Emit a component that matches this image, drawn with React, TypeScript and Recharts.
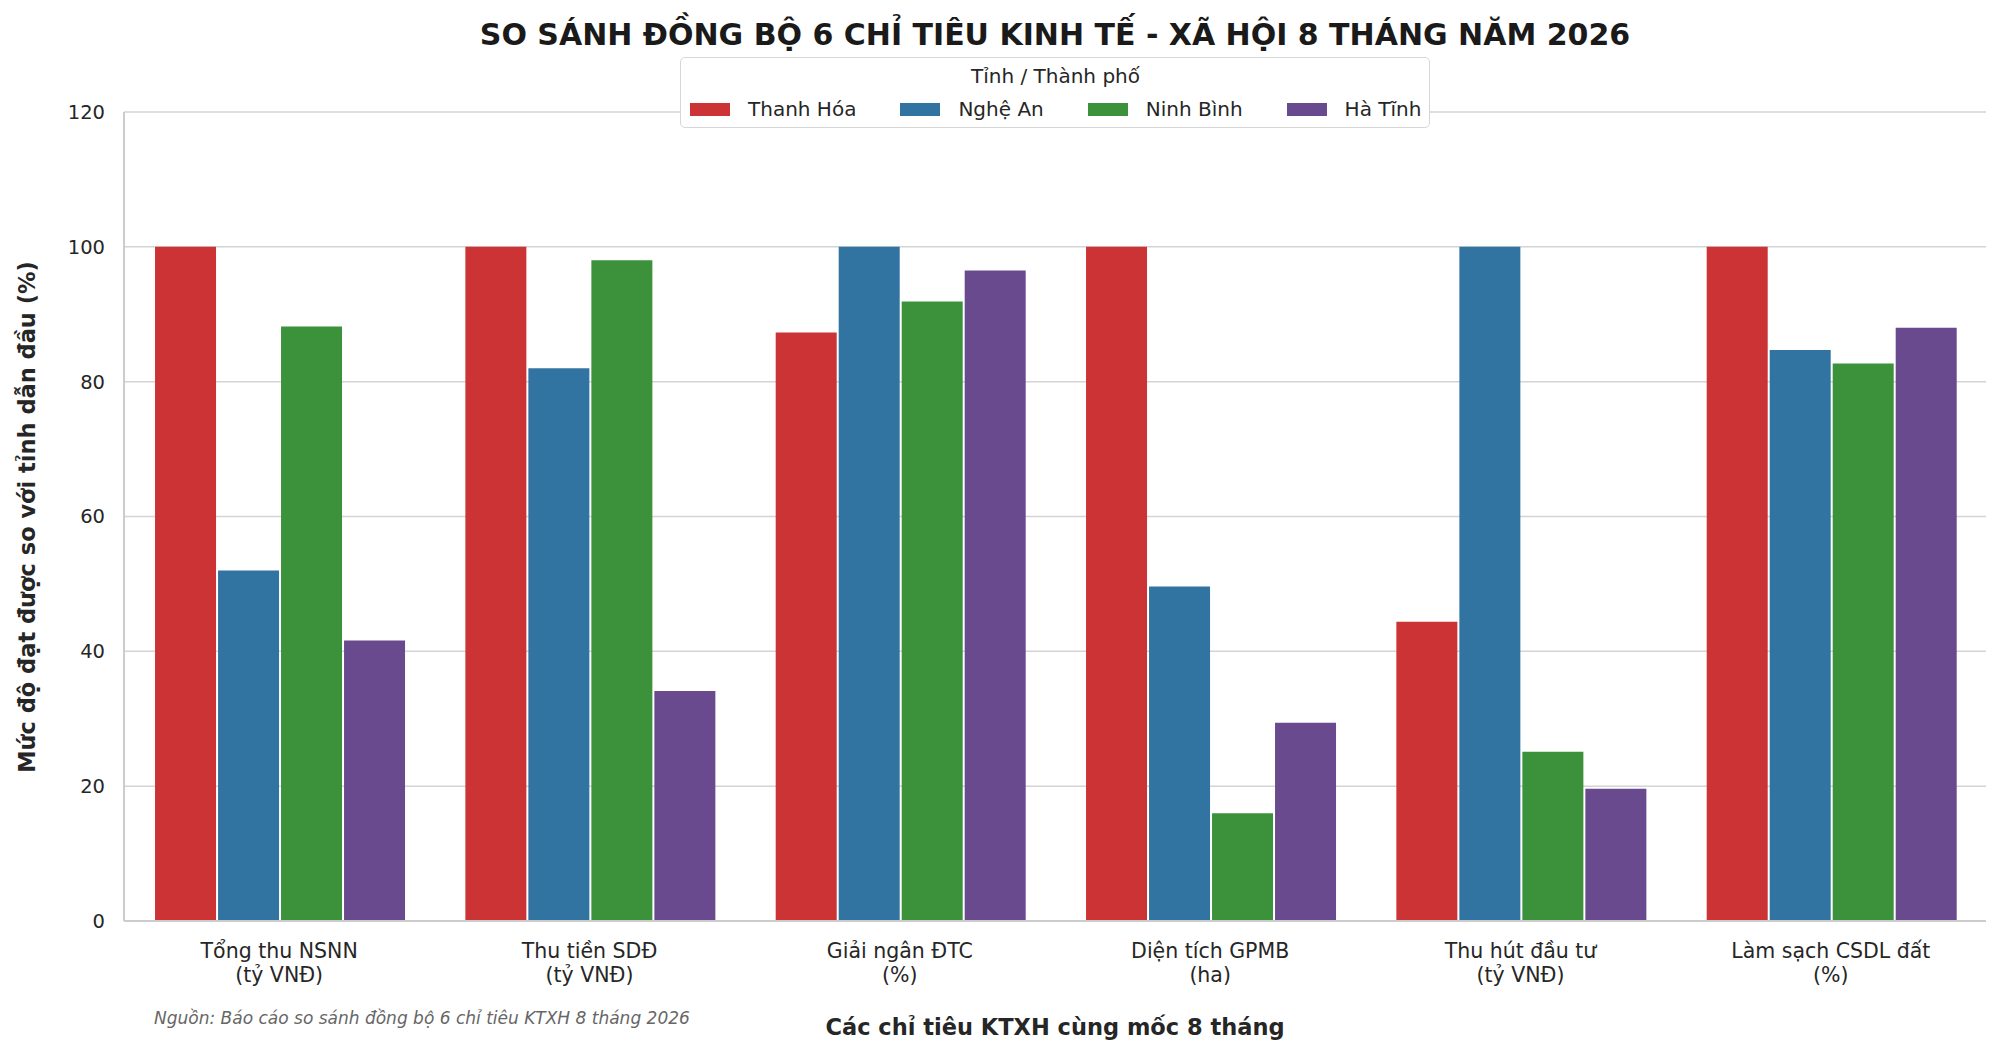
import React from "react";
import { BarChart, Bar, XAxis, YAxis, CartesianGrid, Legend } from "recharts";

const categories = [
  "Tổng thu NSNN\n(tỷ VNĐ)",
  "Thu tiền SDĐ\n(tỷ VNĐ)",
  "Giải ngân ĐTC\n(%)",
  "Diện tích GPMB\n(ha)",
  "Thu hút đầu tư\n(tỷ VNĐ)",
  "Làm sạch CSDL đất\n(%)",
];
const thanhHoa = [100, 100, 87.3, 100, 44.4, 100];
const ngheAn = [52.0, 82.0, 100, 49.6, 100, 84.7];
const ninhBinh = [88.2, 98.0, 91.9, 16.0, 25.1, 82.7];
const haTinh = [41.6, 34.1, 96.5, 29.4, 19.6, 88.0];

const seriesKeys = ["thanhHoa", "ngheAn", "ninhBinh", "haTinh"];
const seriesNames = ["Thanh Hóa", "Nghệ An", "Ninh Bình", "Hà Tĩnh"];
const seriesColors = ["#CB3335", "#3274A1", "#3C923B", "#6A4A8E"];
const yTicks = [0, 20, 40, 60, 80, 100, 120];

const TITLE = "SO SÁNH ĐỒNG BỘ 6 CHỈ TIÊU KINH TẾ - XÃ HỘI 8 THÁNG NĂM 2026";
const X_LABEL = "Các chỉ tiêu KTXH cùng mốc 8 tháng";
const Y_LABEL = "Mức độ đạt được so với tỉnh dẫn đầu (%)";
const SOURCE = "Nguồn: Báo cáo so sánh đồng bộ 6 chỉ tiêu KTXH 8 tháng 2026";
const LEGEND_TITLE = "Tỉnh / Thành phố";

const data = categories.map((c, i) => ({
  name: c,
  thanhHoa: thanhHoa[i],
  ngheAn: ngheAn[i],
  ninhBinh: ninhBinh[i],
  haTinh: haTinh[i],
}));

const FONT = "'DejaVu Sans', sans-serif";
const TEXT = "#262626";

const XTick = (props: any) => {
  const { x, y, payload } = props;
  const lines = String(payload.value).split("\n");
  return (
    <text x={x} y={y} textAnchor="middle" fill={TEXT} fontSize={20.5} fontFamily={FONT}>
      {lines.map((l, i) => (
        <tspan key={i} x={x} dy={i === 0 ? 37 : 23.5}>
          {l}
        </tspan>
      ))}
    </text>
  );
};

const LegendBox = () => (
  <div
    style={{
      background: "#fff",
      border: "1px solid #d6d6d6",
      borderRadius: 5,
      padding: "7px 8px 6px 9px",
      fontFamily: FONT,
      color: TEXT,
      fontSize: 20,
      boxSizing: "border-box",
      width: 750,
      height: 71,
    }}
  >
    <div style={{ textAlign: "center", lineHeight: "23px" }}>{LEGEND_TITLE}</div>
    <div style={{ display: "flex", alignItems: "center", marginTop: 10, height: 22 }}>
      {seriesNames.map((n, i) => (
        <div
          key={n}
          style={{ display: "flex", alignItems: "center", marginRight: i < 3 ? 44 : 0 }}
        >
          <div style={{ width: 40, height: 13, background: seriesColors[i], marginRight: 18 }} />
          <span style={{ whiteSpace: "nowrap", lineHeight: "22px" }}>{n}</span>
        </div>
      ))}
    </div>
  </div>
);

export default function App() {
  return (
    <div
      style={{
        position: "absolute",
        left: 0,
        top: 0,
        width: 2000,
        height: 1053,
        background: "#fff",
        fontFamily: FONT,
      }}
    >
      <BarChart
        width={2000}
        height={1053}
        data={data}
        margin={{ top: 112, right: 14, bottom: 72, left: 0 }}
        barCategoryGap="10%"
        barGap={2}
      >
        <CartesianGrid vertical={false} stroke="#d4d4d4" strokeWidth={1.5} />
        <XAxis
          dataKey="name"
          height={60}
          tickLine={false}
          tickSize={0}
          tickMargin={0}
          axisLine={{ stroke: "#cccccc", strokeWidth: 2 }}
          tick={<XTick />}
          interval={0}
        />
        <YAxis
          width={124}
          domain={[0, 120]}
          ticks={yTicks}
          tickLine={false}
          tickSize={0}
          tickMargin={19}
          axisLine={{ stroke: "#cccccc", strokeWidth: 2 }}
          tick={{ fill: TEXT, fontSize: 19.5, fontFamily: FONT }}
        />
        <Legend
          layout="vertical"
          align="center"
          verticalAlign="middle"
          wrapperStyle={{ position: "absolute", left: 680, top: 57, width: 750, height: 71 }}
          content={<LegendBox />}
        />
        {seriesKeys.map((k, i) => (
          <Bar
            key={k}
            dataKey={k}
            name={seriesNames[i]}
            fill={seriesColors[i]}
            isAnimationActive={false}
          />
        ))}
      </BarChart>

      <div
        style={{
          position: "absolute",
          left: 1055,
          top: 17,
          transform: "translateX(-50%)",
          whiteSpace: "nowrap",
          fontSize: 30,
          fontWeight: "bold",
          color: "#1a1a1a",
          lineHeight: "normal",
        }}
      >
        {TITLE}
      </div>

      <div
        style={{
          position: "absolute",
          left: 27 - 350,
          top: 517 - 15,
          width: 700,
          height: 30,
          lineHeight: "30px",
          textAlign: "center",
          transform: "rotate(-90deg)",
          fontSize: 22.5,
          fontWeight: "bold",
          color: TEXT,
          whiteSpace: "nowrap",
        }}
      >
        {Y_LABEL}
      </div>

      <div
        style={{
          position: "absolute",
          left: 1055,
          top: 1014,
          transform: "translateX(-50%)",
          whiteSpace: "nowrap",
          fontSize: 22.5,
          fontWeight: "bold",
          color: TEXT,
          lineHeight: "normal",
        }}
      >
        {X_LABEL}
      </div>

      <div
        style={{
          position: "absolute",
          left: 154,
          top: 1008,
          whiteSpace: "nowrap",
          fontSize: 17,
          fontStyle: "italic",
          color: "#666666",
          lineHeight: "normal",
        }}
      >
        {SOURCE}
      </div>
    </div>
  );
}
